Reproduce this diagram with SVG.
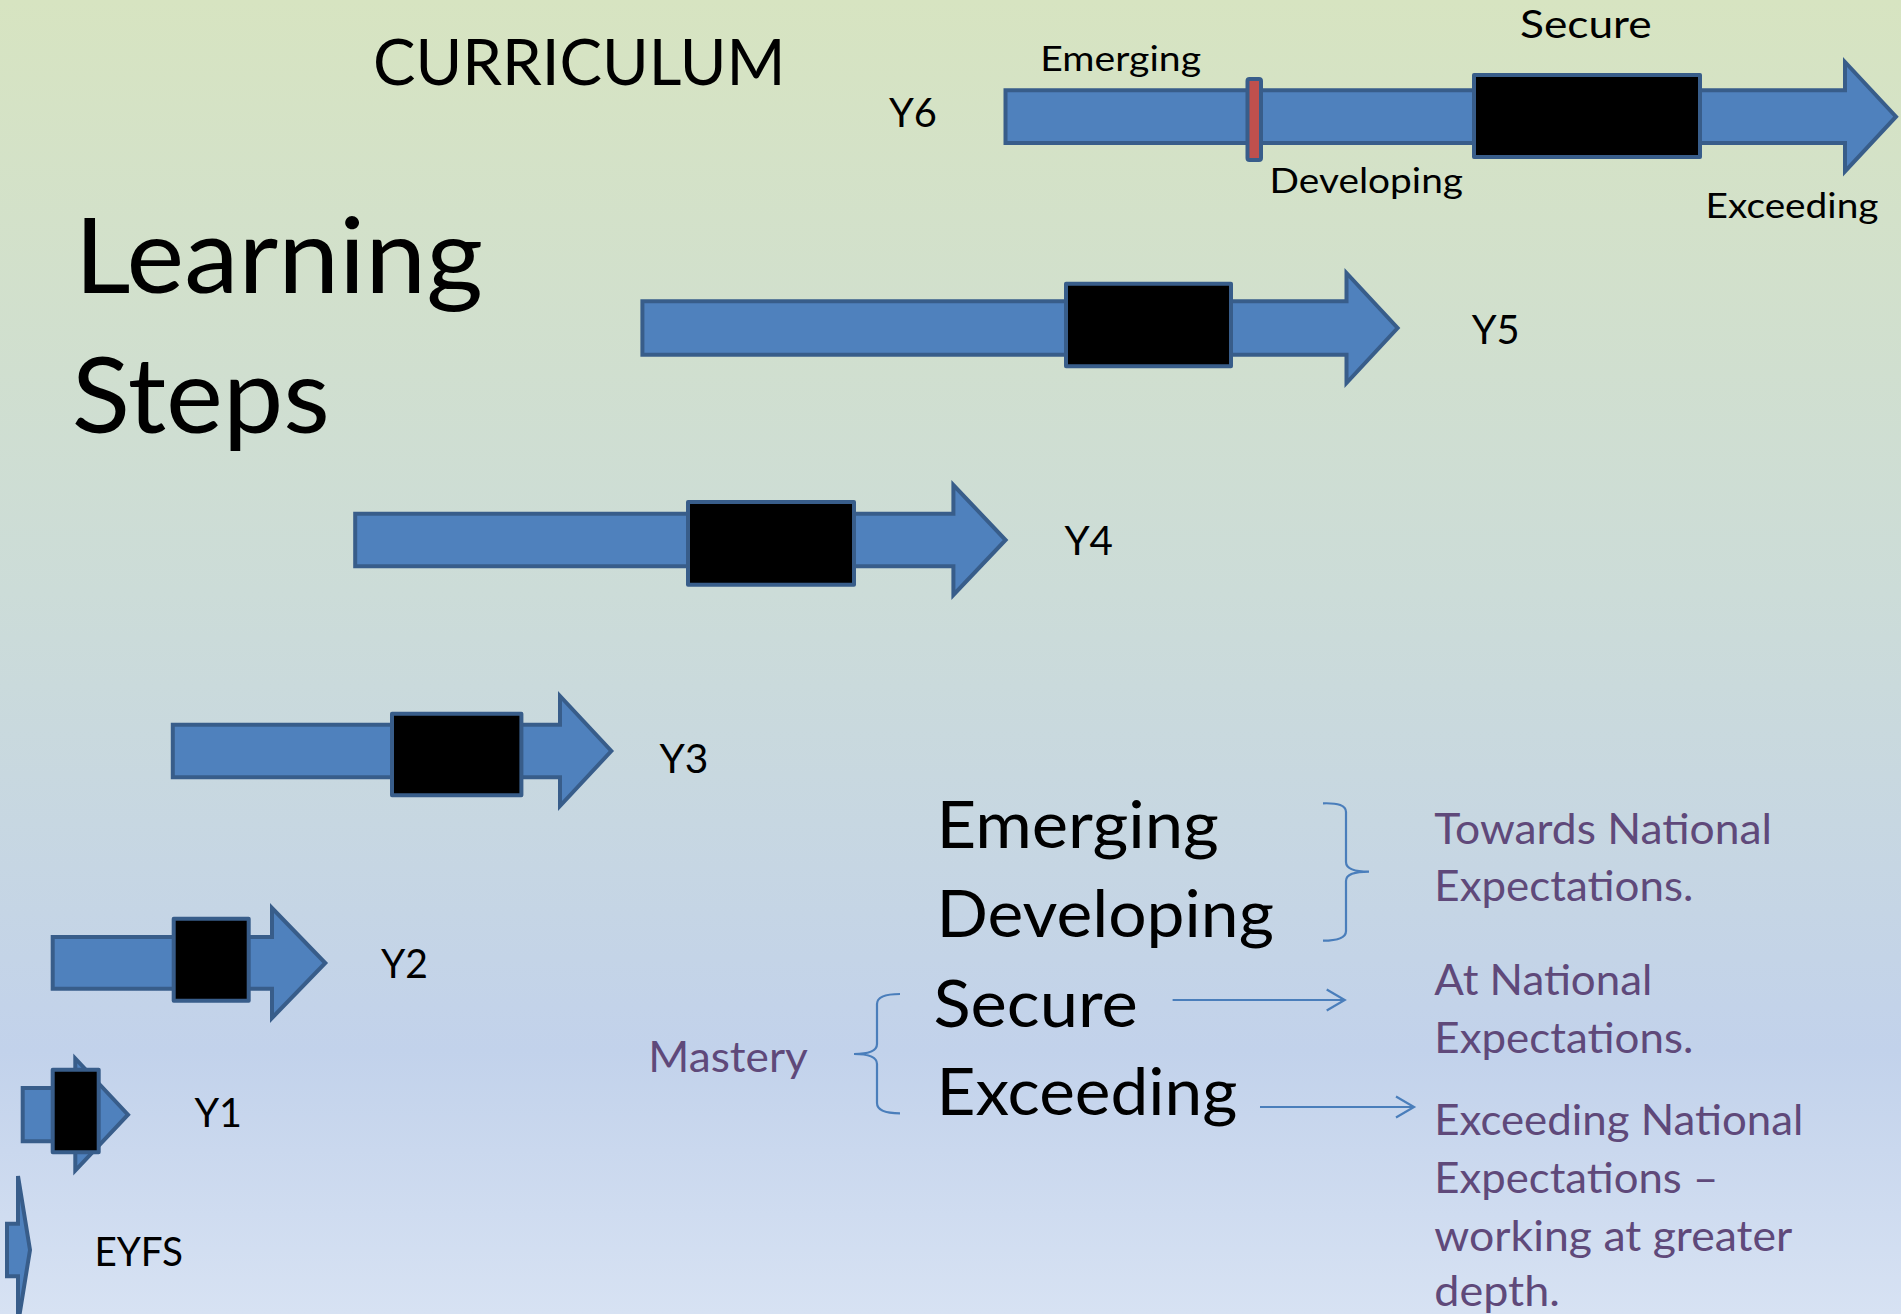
<svg xmlns="http://www.w3.org/2000/svg" width="1901" height="1314" viewBox="0 0 1901 1314">
<style>
text{font-family:Lato,"Open Sans","Liberation Sans",sans-serif;fill:#000}
.lbl{font-size:41px}
.sm{font-size:34px}
.big{font-size:65px}
.pur{fill:#5f497a;font-size:43px}
.arr{fill:#4f81bd;stroke:#385d8a;stroke-width:4;stroke-linejoin:miter}
.box{fill:#000;stroke:#385d8a;stroke-width:4;stroke-linejoin:round}
.con{fill:none;stroke:#4a7ebb;stroke-width:2.2}
</style>
<defs>
<linearGradient id="bg" x1="0" y1="0" x2="0" y2="1">
<stop offset="0" stop-color="#d7e4c1"/>
<stop offset="0.45" stop-color="#ccdcd8"/>
<stop offset="0.8" stop-color="#c2d2eb"/>
<stop offset="1" stop-color="#d7e2f3"/>
</linearGradient>
<marker id="chev" markerUnits="userSpaceOnUse" markerWidth="24" markerHeight="26" refX="19" refY="12" orient="auto" viewBox="0 0 24 24">
<path d="M1,1.5 L19,12 L1,22.5" fill="none" stroke="#4a7ebb" stroke-width="2.2"/>
</marker>
</defs>
<rect width="1901" height="1314" fill="url(#bg)"/>

<g id="title">
<text x="373" y="85" font-size="64" textLength="412.5" lengthAdjust="spacingAndGlyphs">CURRICULUM</text>
<text x="74.5" y="292.7" font-size="104" textLength="408.5" lengthAdjust="spacingAndGlyphs">Learning</text>
<text x="71.8" y="433.3" font-size="104" textLength="258" lengthAdjust="spacingAndGlyphs">Steps</text>
</g>

<g id="y6">
<polygon class="arr" points="1005.5,90.3 1845,90.3 1845,62 1896,116.7 1845,171.4 1845,143 1005.5,143"/>
<rect x="1247.5" y="79" width="13.5" height="81" rx="2" fill="#c0504d" stroke="#385d8a" stroke-width="4"/>
<rect class="box" x="1474" y="75" width="226" height="82"/>
<text class="lbl" x="889" y="126.7" textLength="48" lengthAdjust="spacingAndGlyphs">Y6</text>
<text class="sm" x="1040.3" y="70.7" textLength="160.7" lengthAdjust="spacingAndGlyphs">Emerging</text>
<text x="1520" y="38.3" font-size="39" textLength="131.7" lengthAdjust="spacingAndGlyphs">Secure</text>
<text class="sm" x="1269.6" y="192.7" textLength="193.4" lengthAdjust="spacingAndGlyphs">Developing</text>
<text class="sm" x="1705.6" y="218.3" textLength="172.9" lengthAdjust="spacingAndGlyphs">Exceeding</text>
</g>

<g id="y5">
<polygon class="arr" points="642.4,301.3 1346.5,301.3 1346.5,273 1397.6,328 1346.5,383 1346.5,354.7 642.4,354.7"/>
<rect class="box" x="1066" y="283.7" width="165" height="82.6"/>
<text class="lbl" x="1471.7" y="344" textLength="48" lengthAdjust="spacingAndGlyphs">Y5</text>
</g>

<g id="y4">
<polygon class="arr" points="355.2,513.7 953.4,513.7 953.4,485 1005.6,540 953.4,595 953.4,566.3 355.2,566.3"/>
<rect class="box" x="688" y="502" width="166" height="82.7"/>
<text class="lbl" x="1064.4" y="555" textLength="48.6" lengthAdjust="spacingAndGlyphs">Y4</text>
</g>

<g id="y3">
<polygon class="arr" points="172.8,724.7 560,724.7 560,696 611.3,751 560,806 560,777.3 172.8,777.3"/>
<rect class="box" x="392" y="713.7" width="129.4" height="81.6"/>
<text class="lbl" x="659.4" y="772.7" textLength="49" lengthAdjust="spacingAndGlyphs">Y3</text>
</g>

<g id="y2">
<polygon class="arr" points="52.7,937 272,937 272,908 325.3,963 272,1018 272,988.7 52.7,988.7"/>
<rect class="box" x="173.7" y="918.7" width="75" height="82"/>
<text class="lbl" x="381" y="978.3" textLength="47" lengthAdjust="spacingAndGlyphs">Y2</text>
</g>

<g id="y1">
<polygon class="arr" points="22.7,1088 75.3,1088 75.3,1058.5 128,1114.7 75.3,1170.5 75.3,1141.3 22.7,1141.3"/>
<rect class="box" x="52.7" y="1069.7" width="46" height="82.6"/>
<text class="lbl" x="194.4" y="1126.7" textLength="47.6" lengthAdjust="spacingAndGlyphs">Y1</text>
</g>

<g id="eyfs">
<polygon class="arr" points="7,1223.7 18,1223.7 18,1176 30,1250 18,1324 18,1276.3 7,1276.3"/>
<text class="lbl" x="94.4" y="1266" textLength="88.6" lengthAdjust="spacingAndGlyphs">EYFS</text>
</g>

<g id="levels">
<text class="big" x="936.4" y="848.3" textLength="282.5" lengthAdjust="spacingAndGlyphs">Emerging</text>
<text class="big" x="936.4" y="936.7" textLength="337.5" lengthAdjust="spacingAndGlyphs">Developing</text>
<text class="big" x="933.4" y="1026.7" textLength="204.5" lengthAdjust="spacingAndGlyphs">Secure</text>
<text class="big" x="936.4" y="1115" textLength="301" lengthAdjust="spacingAndGlyphs">Exceeding</text>
</g>

<g id="mastery">
<text class="pur" x="648.3" y="1071.7" font-size="42" textLength="159.5" lengthAdjust="spacingAndGlyphs">Mastery</text>
</g>

<g id="towards">
<text class="pur" x="1434.3" y="844" textLength="337.7" lengthAdjust="spacingAndGlyphs">Towards National</text>
<text class="pur" x="1434.3" y="901" textLength="259" lengthAdjust="spacingAndGlyphs">Expectations.</text>
</g>

<g id="at">
<text class="pur" x="1434.3" y="995.3" textLength="218" lengthAdjust="spacingAndGlyphs">At National</text>
<text class="pur" x="1434.3" y="1052.5" textLength="259" lengthAdjust="spacingAndGlyphs">Expectations.</text>
</g>

<g id="exceedingNE">
<text class="pur" x="1434.3" y="1135.2" textLength="369" lengthAdjust="spacingAndGlyphs">Exceeding National</text>
<text class="pur" x="1434.3" y="1193" textLength="284" lengthAdjust="spacingAndGlyphs">Expectations –</text>
<text class="pur" x="1434.3" y="1251" textLength="358" lengthAdjust="spacingAndGlyphs">working at greater</text>
<text class="pur" x="1434.3" y="1306" textLength="125.6" lengthAdjust="spacingAndGlyphs">depth.</text>
</g>

<g id="connectors">
<path class="con" d="M1323,803.3 Q1346,802.5 1346,812 L1346,862 Q1346,871.7 1369,871.7 Q1346,871.7 1346,881 L1346,931 Q1346,940.7 1323,940.7"/>
<path class="con" d="M900,994 Q877,994 877,1004 L877,1044 Q877,1054 854,1054 Q877,1054 877,1064 L877,1103 Q877,1113.3 900,1113.3"/>
<line class="con" x1="1172.6" y1="1000" x2="1344.7" y2="1000" marker-end="url(#chev)"/>
<line class="con" x1="1260" y1="1107" x2="1414" y2="1107" marker-end="url(#chev)"/>
</g>
</svg>
